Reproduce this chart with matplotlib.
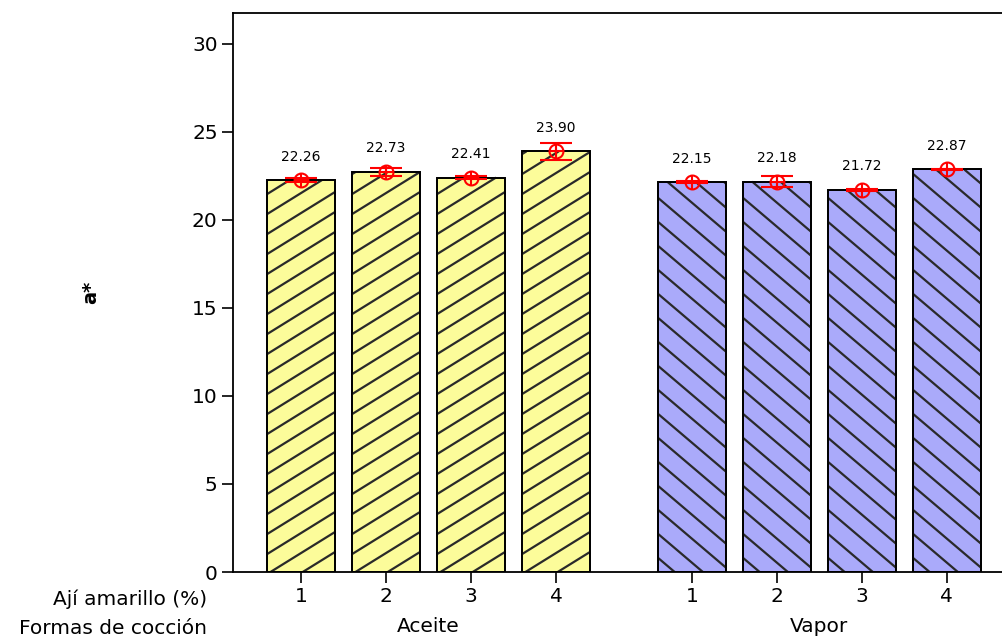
import numpy as np
import matplotlib
matplotlib.use("Agg")
import matplotlib.pyplot as plt
from matplotlib.collections import LineCollection

# data
coccion = ["Aceite", "Vapor"]
aji = ["1", "2", "3", "4"]
aceite_mean = [22.26, 22.73, 22.41, 23.90]
vapor_mean = [22.15, 22.18, 21.72, 22.87]
aceite_err = [0.10, 0.24, 0.08, 0.48]
vapor_err = [0.05, 0.33, 0.05, 0.05]

plt.rcParams['font.family'] = ['DejaVu Sans']

fig = plt.figure(figsize=(10.03, 6.39), dpi=100)
ax = fig.add_axes([233 / 1003, 1 - 572 / 639, 1 - 233 / 1003, (572 - 13) / 639])
ax.set_xlim(0.2, 9.26)
ax.set_ylim(0, 31.76)


def hatch_bars(bars, slope_px, gap_px):
    # slanted hatch lines cut to each bar's rectangle
    px_x = ax.transData.transform((1, 0))[0] - ax.transData.transform((0, 0))[0]
    px_y = ax.transData.transform((0, 1))[1] - ax.transData.transform((0, 0))[1]
    k = slope_px * px_x / px_y      # data slope
    step = gap_px / px_y            # vertical spacing in data units
    for b in bars:
        x0, w, h = b.get_x(), b.get_width(), b.get_height()
        segs = []
        for c in np.arange(-abs(k) * w, h + abs(k) * w, step):
            # line y = c + k*(x - x0), keep the part with 0 <= y <= h
            lo = x0 + (0 - c) / k
            hi = x0 + (h - c) / k
            xmin = max(x0, min(lo, hi))
            xmax = min(x0 + w, max(lo, hi))
            if xmax > xmin:
                segs.append([(xmin, c + k * (xmin - x0)), (xmax, c + k * (xmax - x0))])
        ax.add_collection(LineCollection(segs, colors='#2a2a2a', linewidths=1.6,
                                         zorder=2.5))


pos_a = np.array([1, 2, 3, 4])
pos_v = pos_a + 4.6
colors = ['#FCFC9A', '#AAAAFA']

for pos, means, errs, col, sl, gap in [(pos_a, aceite_mean, aceite_err, colors[0], 0.62, 20),
                                       (pos_v, vapor_mean, vapor_err, colors[1], -0.85, 24)]:
    bars = ax.bar(pos, means, width=0.8, color=col, edgecolor='black', linewidth=1.3,
                  zorder=2)
    hatch_bars(bars, sl, gap)
    ax.bar(pos, means, width=0.8, color='none', edgecolor='black', linewidth=1.3,
           zorder=2.6)
    ax.errorbar(pos, means, yerr=errs, fmt='none', ecolor='red', elinewidth=1.5,
                capsize=11.5, capthick=1.5, zorder=3)
    ax.plot(pos, means, 'o', mfc='none', mec='red', ms=10, mew=1.5, zorder=4)
    ax.plot(pos, means, '+', color='red', ms=10, mew=1.5, zorder=4)
    for x, m in zip(pos, means):
        ax.annotate(f"{m:.2f}", (x, m), xytext=(0, 17), textcoords='offset points',
                    ha='center', va='center', fontsize=10)

ax.set_yticks([0, 5, 10, 15, 20, 25, 30])
ax.tick_params(axis='y', labelsize=14.5, length=8, width=1.2, direction='out', pad=3)
ax.tick_params(axis='x', labelsize=14.5, length=8, width=1.2, direction='out', pad=3)
ax.set_xticks(np.concatenate([pos_a, pos_v]))
ax.set_xticklabels(aji + aji)
for s in ['left', 'top', 'bottom']:
    ax.spines[s].set_linewidth(1.3)
ax.spines['right'].set_visible(False)

ax.set_ylabel("a*", fontsize=14, fontweight='bold', labelpad=66)

fig.text(207 / 1003, 1 - 599 / 639, "Ají amarillo (%)", ha='right', va='center', fontsize=14.5)
fig.text(207 / 1003, 1 - 628 / 639, "Formas de cocción", ha='right', va='center', fontsize=14.5)
for lab, pos in zip(coccion, [pos_a, pos_v]):
    ax.text(pos.mean(), -0.098, lab, transform=ax.get_xaxis_transform(),
            ha='center', va='center', fontsize=14.5)

fig.savefig("out.png", dpi=100)
